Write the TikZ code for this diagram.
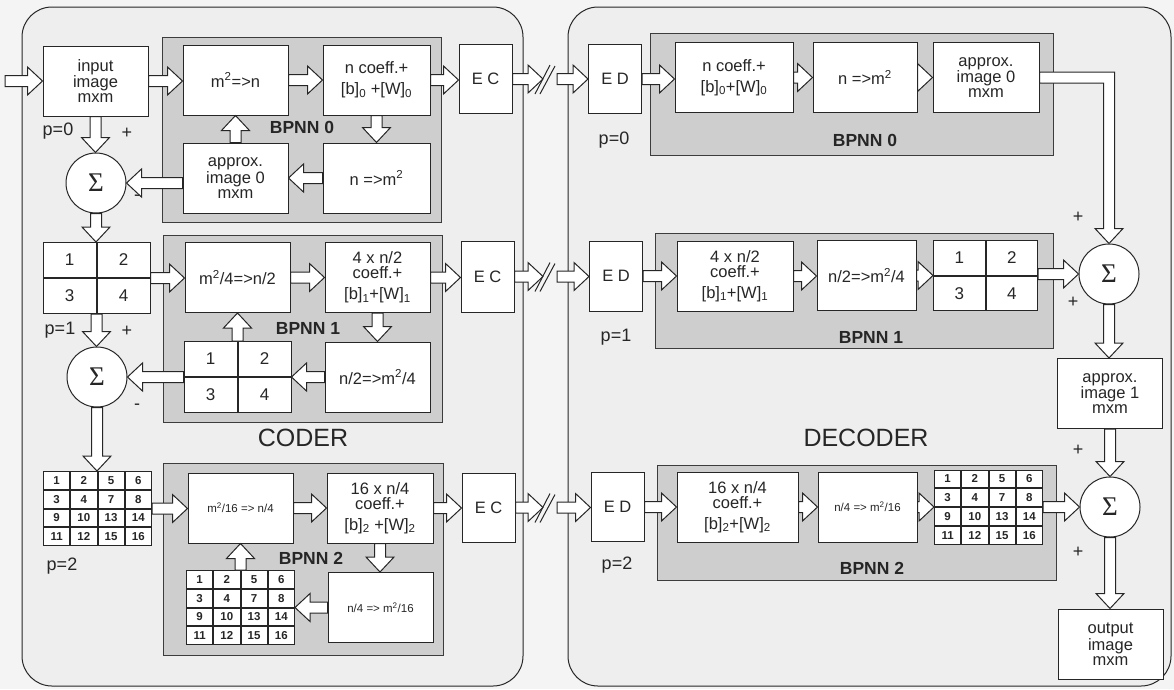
\documentclass[tikz,border=0pt]{standalone}
\usepackage{fontspec}
\setmainfont{Liberation Sans}
\newfontfamily\sigmafont{Liberation Serif}
\usetikzlibrary{calc,positioning,matrix}
\definecolor{ink}{RGB}{38,38,38}
\definecolor{sheet}{RGB}{244,244,244}
\definecolor{paper}{RGB}{238,238,238}
\definecolor{netgray}{RGB}{206,206,206}
\newcommand{\BoxFont}{\fontsize{16.5}{15}\selectfont}
\newcommand{\GridFont}{\fontsize{17}{18}\selectfont}
\newcommand{\SmallFont}{\fontsize{11.5}{13}\selectfont}
\newcommand{\CellFont}{\fontsize{11.5}{12}\selectfont\bfseries}
\newcommand{\NetFont}{\fontsize{17.5}{19}\selectfont\bfseries}
\newcommand{\SignFont}{\fontsize{18}{20}\selectfont}
\newcommand{\TitleFont}{\fontsize{25}{28}\selectfont}
\tikzset{
  codeframe/.style={rounded corners=30pt, draw=ink, fill=paper, line width=1pt},
  netpanel/.style={draw=ink!90, fill=netgray, line width=1pt},
  blk/.style={draw=ink, fill=white, line width=1pt, align=center, font=\BoxFont, text=ink, inner sep=0pt, minimum width=105pt, minimum height=70pt},
  codec/.style={blk, minimum width=53pt, minimum height=69pt},
  sumnode/.style={circle, draw=ink, fill=white, line width=1pt, minimum size=60pt, inner sep=0pt, font=\fontsize{27}{27}\selectfont\sigmafont, text=ink},
  cellgrid/.style={matrix of nodes, inner sep=0pt, outer sep=0pt, column sep=0pt, row sep=0pt,
    nodes={draw=ink, fill=white, line width=1pt, outer sep=0pt, inner sep=0pt, anchor=center, text=ink}},
  quadgrid/.style={nodes={minimum width=53pt, minimum height=35pt, font=\GridFont}},
  hexgrid/.style={nodes={minimum width=26.25pt, minimum height=17.75pt, font=\CellFont}},
  netlbl/.style={font=\NetFont, text=ink, inner sep=0pt},
  signlbl/.style={font=\SignFont, text=ink, inner sep=0pt},
  titlelbl/.style={font=\TitleFont, text=ink, inner sep=0pt},
  pipeshape/.style={draw=ink, fill=white, line width=1pt, line join=miter},
  hollow/.style={pipeshape, to path={let \p1=(\tikztostart), \p2=(\tikztotarget), \p3=($(\p2)!15pt!(\p1)$) in
    ($(\p1)!5.5pt!90:(\p2)$) -- ($(\p3)!5.5pt!90:(\p2)$) -- ($(\p3)!14pt!90:(\p2)$) -- (\p2)
    -- ($(\p3)!14pt!-90:(\p2)$) -- ($(\p3)!5.5pt!-90:(\p2)$) -- ($(\p1)!5.5pt!-90:(\p2)$) -- cycle}},
  cutline/.style={draw=ink, line width=1pt}
}

\begin{document}
\begin{tikzpicture}[x=1pt, y=-1pt]
  \fill[sheet] (0,0) rectangle (1174,689);
  \useasboundingbox (0,0) rectangle (1174,689);
  % coder / decoder frames
  \draw[codeframe] (22,7) rectangle (523,686);
  \draw[codeframe] (568,7) rectangle (1171,686);
  % network panels
  \draw[netpanel] (162,37) rectangle (441,222);
  \draw[netpanel] (163,235) rectangle (442,422);
  \draw[netpanel] (163,463) rectangle (443,655);
  \draw[netpanel] (650,33) rectangle (1053,155);
  \draw[netpanel] (655,233) rectangle (1053,348);
  \draw[netpanel] (657,465) rectangle (1056,580);

  % coder, p=0
  \coordinate (src) at (5,81);
  \node[blk] (cin) at (95.5,81) {input\\image\\mxm};
  \node[blk] (cenc0) at (235.5,80) {m\textsuperscript{2}=>n};
  \node[blk, minimum width=107pt] (ccoef0) at (376.5,80) {n coeff.+\\[6pt]{}[b]\textsubscript{0} +[W]\textsubscript{0}};
  \node[codec] (cec0) at (485.5,79) {E C};
  \node[blk] (capp0) at (235.5,178) {approx.\\image 0\\mxm};
  \node[blk, minimum width=107pt] (cdec0) at (376.5,178) {n =>m\textsuperscript{2}};
  \node[sumnode] (csig0) at (96,183) {Σ};
  \node[netlbl] (cnet0) at (302,127) {BPNN 0};
  \node[signlbl] (cp0) at (58,131) {p=0};
  \node[signlbl] (cplus0) at (127,133) {+};
  \node[signlbl] (cminus0) at (137,198) {-};

  % coder, p=1
  \matrix[cellgrid, quadgrid] (cg1) at (96.5,278) {1 & 2\\ 3 & 4\\};
  \node[blk] (cenc1) at (237.5,277.5) {m\textsuperscript{2}/4=>n/2};
  \node[blk] (ccoef1) at (377.5,277.5) {4 x n/2\\coeff.+\\[6pt]{}[b]\textsubscript{1}+[W]\textsubscript{1}};
  \node[codec, minimum height=71pt] (cec1) at (487.5,276.5) {E C};
  \matrix[cellgrid, quadgrid] (cgb1) at (237.5,377) {1 & 2\\ 3 & 4\\};
  \node[blk] (cdec1) at (377.5,377) {n/2=>m\textsuperscript{2}/4};
  \node[sumnode] (csig1) at (97,377) {Σ};
  \node[netlbl] (cnet1) at (308,328) {BPNN 1};
  \node[signlbl] (cp1) at (60,330) {p=1};
  \node[signlbl] (cplus1) at (127,331) {+};
  \node[signlbl] (cminus1) at (137,407) {-};
  \node[titlelbl] (coder) at (303,438) {CODER};

  % coder, p=2
  \matrix[cellgrid, hexgrid] (cg2) at (97.5,508.5) {1 & 2 & 5 & 6\\ 3 & 4 & 7 & 8\\ 9 & 10 & 13 & 14\\ 11 & 12 & 15 & 16\\};
  \node[blk] (cenc2) at (240.5,508) {\SmallFont m\textsuperscript{2}/16 => n/4};
  \node[blk, minimum width=106pt] (ccoef2) at (380,508) {16 x n/4\\coeff.+\\[6pt]{}[b]\textsubscript{2} +[W]\textsubscript{2}};
  \node[codec] (cec2) at (488.5,507.5) {E C};
  \matrix[cellgrid, hexgrid] (cgb2) at (240.5,607.5) {1 & 2 & 5 & 6\\ 3 & 4 & 7 & 8\\ 9 & 10 & 13 & 14\\ 11 & 12 & 15 & 16\\};
  \node[blk] (cdec2) at (380.5,607.5) {\SmallFont n/4 => m\textsuperscript{2}/16};
  \node[netlbl] (cnet2) at (311,558) {BPNN 2};
  \node[signlbl] (cp2) at (62,566) {p=2};

  % decoder, p=0
  \node[codec] (ded0) at (615,79) {E D};
  \node[blk, minimum width=118pt] (dcoef0) at (734,77.5) {n coeff.+\\[6pt]{}[b]\textsubscript{0}+[W]\textsubscript{0}};
  \node[blk, minimum width=104pt] (ddec0) at (865,77.5) {n =>m\textsuperscript{2}};
  \node[blk, minimum width=106pt] (dapp0) at (986,77.5) {approx.\\image 0\\mxm};
  \node[netlbl] (dnet0) at (865,140) {BPNN 0};
  \node[signlbl] (dp0) at (614,140) {p=0};

  % decoder, p=1
  \node[codec, minimum height=70pt] (ded1) at (616,276) {E D};
  \node[blk, minimum width=116pt] (dcoef1) at (735,276) {4 x n/2\\coeff.+\\[6pt]{}[b]\textsubscript{1}+[W]\textsubscript{1}};
  \node[blk, minimum width=99pt] (ddec1) at (866.5,275.5) {n/2=>m\textsuperscript{2}/4};
  \matrix[cellgrid, nodes={minimum width=51.5pt, minimum height=34.5pt, font=\GridFont}] (dg1) at (985.5,275.5) {1 & 2\\ 3 & 4\\};
  \node[sumnode] (dsig1) at (1109,274) {Σ};
  \node[blk] (dapp1) at (1110,393.5) {approx.\\image 1\\mxm};
  \node[netlbl] (dnet1) at (871,337) {BPNN 1};
  \node[signlbl] (dp1) at (616,337) {p=1};
  \node[signlbl] (dplus1a) at (1078,217) {+};
  \node[signlbl] (dplus1b) at (1073,302) {+};
  \node[titlelbl] (decoder) at (866,438) {DECODER};

  % decoder, p=2
  \node[codec] (ded2) at (617.5,507) {E D};
  \node[blk, minimum width=121pt] (dcoef2) at (737.5,507) {16 x n/4\\coeff.+\\[6pt]{}[b]\textsubscript{2}+[W]\textsubscript{2}};
  \node[blk, minimum width=99pt] (ddec2) at (867.5,507) {\SmallFont n/4 => m\textsuperscript{2}/16};
  \matrix[cellgrid, hexgrid] (dg2) at (988.5,507) {1 & 2 & 5 & 6\\ 3 & 4 & 7 & 8\\ 9 & 10 & 13 & 14\\ 11 & 12 & 15 & 16\\};
  \node[sumnode] (dsig2) at (1110,507) {Σ};
  \node[blk] (dout) at (1110.5,644) {output\\image\\mxm};
  \node[netlbl] (dnet2) at (872,568) {BPNN 2};
  \node[signlbl] (dp2) at (617,565) {p=2};
  \node[signlbl] (dplus2a) at (1078,450) {+};
  \node[signlbl] (dplus2b) at (1078,552) {+};

  % coder arrows
  \draw[hollow] (src) to (cin.west);
  \draw[hollow] (cin.east) to (cin.east -| cenc0.west);
  \draw[hollow] (cenc0.east) to (cenc0.east -| ccoef0.west);
  \draw[hollow] (ccoef0.east) to (ccoef0.east -| cec0.west);
  \draw[hollow] (ccoef0.south) to (ccoef0.south |- cdec0.north);
  \draw[hollow] (cdec0.west) to (cdec0.west -| capp0.east);
  \draw[hollow] (capp0.north) to (capp0.north |- cenc0.south);
  \draw[hollow] (capp0.west |- csig0.east) to (csig0.east);
  \draw[hollow] (cin.south) to (cin.south |- csig0.north);
  \draw[hollow] (csig0.south) to (csig0.south |- cg1.north);
  \draw[hollow] (cg1.east) to (cg1.east -| cenc1.west);
  \draw[hollow] (cenc1.east) to (cenc1.east -| ccoef1.west);
  \draw[hollow] (ccoef1.east) to (ccoef1.east -| cec1.west);
  \draw[hollow] (ccoef1.south) to (ccoef1.south |- cdec1.north);
  \draw[hollow] (cdec1.west) to (cdec1.west -| cgb1.east);
  \draw[hollow] (cgb1.north) to (cgb1.north |- cenc1.south);
  \draw[hollow] (cgb1.west |- csig1.east) to (csig1.east);
  \draw[hollow] (cg1.south) to (cg1.south |- csig1.north);
  \draw[hollow] (csig1.south) to (csig1.south |- cg2.north);
  \draw[hollow] (cg2.east) to (cg2.east -| cenc2.west);
  \draw[hollow] (cenc2.east) to (cenc2.east -| ccoef2.west);
  \draw[hollow] (ccoef2.east) to (ccoef2.east -| cec2.west);
  \draw[hollow] (ccoef2.south) to (ccoef2.south |- cdec2.north);
  \draw[hollow] (cdec2.west) to (cdec2.west -| cgb2.east);
  \draw[hollow] (cgb2.north) to (cgb2.north |- cenc2.south);

  % channel
  \coordinate (tx0a) at (543,79); \coordinate (tx0b) at (557,79);
  \coordinate (tx1a) at (543,276.5); \coordinate (tx1b) at (557,276.5);
  \coordinate (tx2a) at (543,507.5); \coordinate (tx2b) at (557,507.5);
  \foreach \r in {0,1,2}{
    \draw[hollow] (cec\r.east) to (cec\r.east -| tx\r a);
    \draw[cutline] ($(tx\r a)+(-8,15)$) -- ($(tx\r a)+(7,-14)$) ($(tx\r a)+(-3,15)$) -- ($(tx\r a)+(12,-13)$);
    \draw[hollow] (tx\r b) to (tx\r b -| ded\r.west);
  }

  % decoder arrows
  \draw[hollow] (ded0.east) to (ded0.east -| dcoef0.west);
  \draw[hollow] (dcoef0.east) to (dcoef0.east -| ddec0.west);
  \draw[hollow] (ddec0.east) to (ddec0.east -| dapp0.west);
  \draw[pipeshape] let \p1=(dapp0.east), \p2=(dsig1.north) in
    (\x1,{\y1+5.5pt}) -- ({\x2+5.5pt},{\y1+5.5pt}) -- ({\x2+5.5pt},{\y2+15pt}) -- ({\x2+14pt},{\y2+15pt}) -- (\x2,\y2)
    -- ({\x2-14pt},{\y2+15pt}) -- ({\x2-5.5pt},{\y2+15pt}) -- ({\x2-5.5pt},{\y1-5.5pt}) -- (\x1,{\y1-5.5pt}) -- cycle;
  \draw[hollow] (ded1.east) to (ded1.east -| dcoef1.west);
  \draw[hollow] (dcoef1.east) to (dcoef1.east -| ddec1.west);
  \draw[hollow] (ddec1.east) to (ddec1.east -| dg1.west);
  \draw[hollow] (dg1.east |- dsig1.west) to (dsig1.west);
  \draw[hollow] (dsig1.south) to (dsig1.south |- dapp1.north);
  \draw[hollow] (dapp1.south) to (dapp1.south |- dsig2.north);
  \draw[hollow] (ded2.east) to (ded2.east -| dcoef2.west);
  \draw[hollow] (dcoef2.east) to (dcoef2.east -| ddec2.west);
  \draw[hollow] (ddec2.east) to (ddec2.east -| dg2.west);
  \draw[hollow] (dg2.east |- dsig2.west) to (dsig2.west);
  \draw[hollow] (dsig2.south) to (dsig2.south |- dout.north);
\end{tikzpicture}
\end{document}
